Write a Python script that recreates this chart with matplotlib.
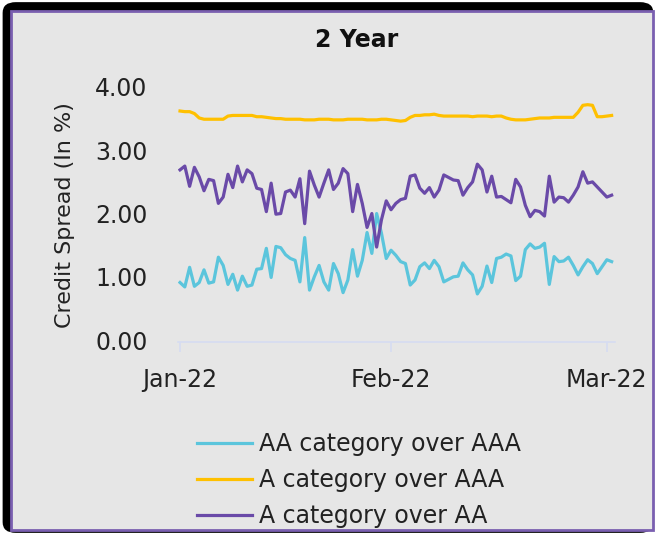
import matplotlib
matplotlib.use("Agg")
import matplotlib.pyplot as plt
from matplotlib.patches import FancyBboxPatch, Rectangle

# spreads in %, one value per observation
aa_over_aaa = [
    0.91, 0.84, 1.15, 0.85, 0.91, 1.11, 0.90, 0.92, 1.31, 1.18, 0.88, 1.04,
    0.79, 1.01, 0.85, 0.87, 1.12, 1.13, 1.45, 0.99, 1.48, 1.46, 1.35,
    1.29, 1.26, 0.92, 1.62, 0.79, 1.00, 1.18, 0.92, 0.79, 1.21, 1.05, 0.75,
    0.95, 1.43, 1.01, 1.26, 1.70, 1.37, 2.00, 1.69, 1.29, 1.42, 1.34, 1.24, 1.21,
    0.87, 0.95, 1.16, 1.22, 1.13, 1.26, 1.16, 0.92, 0.96, 1.00, 1.01, 1.22,
    1.11, 1.03, 0.73, 0.85, 1.17, 0.91, 1.29, 1.31, 1.36, 1.33,
    0.94, 1.01, 1.43, 1.52, 1.45, 1.47, 1.53, 0.88, 1.32, 1.24, 1.25, 1.31,
    1.18, 1.03, 1.16, 1.27, 1.21, 1.05, 1.16, 1.27, 1.24,
]
a_over_aaa = [
    3.62, 3.61, 3.61, 3.58, 3.51, 3.49, 3.49, 3.49, 3.49, 3.49, 3.54, 3.55,
    3.55, 3.55, 3.55, 3.55, 3.53, 3.53, 3.52, 3.51, 3.50, 3.50, 3.49, 3.49,
    3.49, 3.49, 3.48, 3.48, 3.48, 3.49, 3.49, 3.49, 3.48, 3.48, 3.48, 3.49,
    3.49, 3.49, 3.49, 3.48, 3.48, 3.48, 3.49, 3.49, 3.48, 3.47, 3.46, 3.47,
    3.52, 3.55, 3.55, 3.56, 3.56, 3.57, 3.55, 3.54, 3.54, 3.54, 3.54, 3.54,
    3.54, 3.53, 3.54, 3.54, 3.54, 3.53, 3.54, 3.54, 3.51, 3.49, 3.48, 3.48,
    3.48, 3.49, 3.50, 3.51, 3.51, 3.51, 3.52, 3.52, 3.52, 3.52, 3.52, 3.60,
    3.71, 3.72, 3.71, 3.53, 3.53, 3.54, 3.55,
]
a_over_aa = [
    2.69, 2.75, 2.43, 2.73, 2.58, 2.36, 2.54, 2.52, 2.16, 2.26, 2.62, 2.41,
    2.75, 2.50, 2.69, 2.63, 2.40, 2.38, 2.03, 2.48, 1.99, 2.00, 2.34,
    2.37, 2.26, 2.55, 1.84, 2.67, 2.45, 2.26, 2.48, 2.69, 2.38, 2.48, 2.71,
    2.63, 2.03, 2.46, 2.16, 1.78, 2.00, 1.47, 1.90, 2.20, 2.06, 2.16, 2.22, 2.24,
    2.59, 2.61, 2.40, 2.32, 2.41, 2.26, 2.37, 2.61, 2.57, 2.53, 2.52, 2.29,
    2.41, 2.50, 2.78, 2.69, 2.34, 2.59, 2.26, 2.27, 2.22, 2.17,
    2.54, 2.42, 2.13, 1.95, 2.05, 2.03, 1.96, 2.59, 2.18, 2.26, 2.25, 2.18,
    2.29, 2.42, 2.66, 2.48, 2.50, 2.42, 2.34, 2.26, 2.29,
]
month_ticks = [0, 44, 89]
month_labels = ["Jan-22", "Feb-22", "Mar-22"]
y_ticks = [0, 1, 2, 3, 4]

W, H = 656, 535
fig = plt.figure(figsize=(W / 100, H / 100), dpi=100, facecolor="white")

# dark rounded frame with a grey panel inside, kept behind the axes
fig.patches.append(FancyBboxPatch((0.004, 0.004), 0.992, 0.992, boxstyle="round,pad=0,rounding_size=0.02",
                                  transform=fig.transFigure, facecolor="black", edgecolor="none",
                                  zorder=-3))
fig.patches.append(Rectangle((11 / W, 1 - 530 / H), 642 / W, 519 / H, transform=fig.transFigure,
                             facecolor="#e6e6e6", edgecolor="#7a5fb0", linewidth=2, zorder=-2))

ax = fig.add_axes([178 / W, 1 - 342 / H, 437 / W, 262 / H])
ax.set_facecolor("none")

x = list(range(len(a_over_aa)))
ax.plot(x, aa_over_aaa, color="#5bc5dc", lw=2.3, label="AA category over AAA")
ax.plot(x, a_over_aaa, color="#ffc000", lw=2.3, label="A category over AAA")
ax.plot(x, a_over_aa, color="#6a4aa8", lw=2.3, label="A category over AA")

ax.set_xlim(-0.42, 90.7)
ax.set_ylim(-0.03, 4.11)
ax.set_yticks(y_ticks)
ax.set_yticklabels([f"{v:.2f}" for v in y_ticks])
ax.set_xticks(month_ticks)
ax.set_xticklabels(month_labels)

for s in ["top", "right", "left"]:
    ax.spines[s].set_visible(False)
ax.spines["bottom"].set_color("#d6dcf2")
ax.spines["bottom"].set_linewidth(1.2)
ax.tick_params(axis="y", length=0, pad=22, labelsize=17, labelcolor="#222222")
ax.tick_params(axis="x", length=7, width=1.2, color="#d6dcf2", pad=12, labelsize=17, labelcolor="#222222")

fig.text(65 / W, 1 - 215 / H, "Credit Spread (In %)", rotation=90, ha="center", va="center",
         fontsize=16, color="#222222")
fig.text(357 / W, 1 - 40 / H, "2 Year", ha="center", va="center", fontsize=17,
         fontweight="bold", color="#111111")

fig.legend(loc="upper left", bbox_to_anchor=(176 / W, 1 - 411 / H), frameon=False,
           fontsize=17, handlelength=2.3, handletextpad=0.3, labelspacing=0.5,
           labelcolor="#222222")

fig.savefig("out.png", dpi=100, facecolor=fig.get_facecolor())
